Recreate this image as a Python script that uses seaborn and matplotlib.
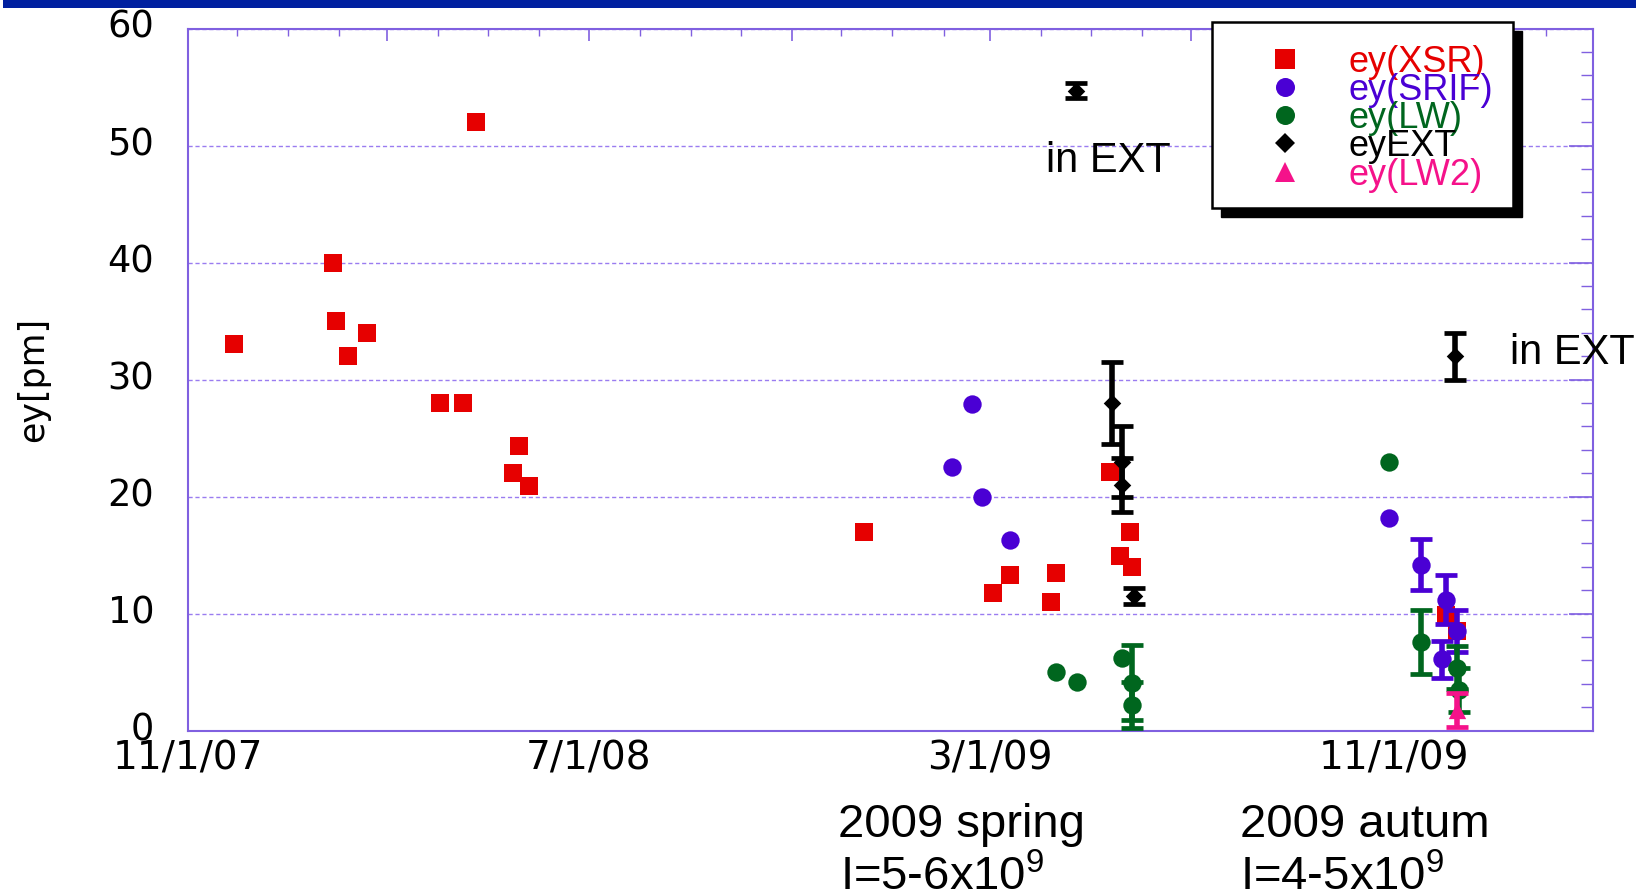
import numpy as np
import pandas as pd
import matplotlib
matplotlib.use("Agg")
import matplotlib.pyplot as plt
import matplotlib.dates as mdates
import matplotlib.transforms as mtransforms
from matplotlib.patches import Rectangle
from matplotlib.lines import Line2D
from matplotlib.ticker import FixedLocator, FixedFormatter, MultipleLocator
import seaborn as sns

nan = np.nan

# ---- measured vertical emittance, by monitor ----
xsr_dates = ["2007-11-29", "2008-01-28", "2008-01-30", "2008-02-06", "2008-02-18",
             "2008-04-02", "2008-04-16", "2008-04-24", "2008-05-16", "2008-05-20",
             "2008-05-26", "2008-12-15", "2009-03-03", "2009-03-13", "2009-04-07",
             "2009-04-10", "2009-05-13", "2009-05-19", "2009-05-25", "2009-05-26",
             "2009-12-02", "2009-12-09"]
xsr_ey = [33.0, 40.0, 35.0, 32.0, 34.0, 28.0, 28.0, 52.0, 22.0, 24.3, 20.9,
          17.0, 11.8, 13.3, 11.0, 13.5, 22.1, 14.9, 17.0, 14.0, 9.9, 8.5]

srif_dates = ["2009-02-06", "2009-02-18", "2009-02-24", "2009-03-13", "2009-10-29",
              "2009-11-17", "2009-11-30", "2009-12-02", "2009-12-09"]
srif_ey = [22.5, 27.9, 20.0, 16.3, 18.2, 14.2, 6.1, 11.2, 8.5]
srif_err = [nan, nan, nan, nan, nan, 2.2, 1.6, 2.1, 1.8]

lw_dates = ["2009-04-10", "2009-04-23", "2009-05-20", "2009-05-26", "2009-05-26",
            "2009-10-29", "2009-11-17", "2009-12-09", "2009-12-10"]
lw_ey = [5.0, 4.2, 6.2, 4.1, 2.2, 23.0, 7.6, 5.4, 3.5]
lw_err = [nan, nan, nan, 3.2, 2.0, nan, 2.75, 1.8, 1.9]

ext_dates = ["2009-04-22", "2009-05-14", "2009-05-20", "2009-05-20", "2009-05-27",
             "2009-12-08"]
ext_ey = [54.7, 28.0, 23.0, 21.0, 11.5, 32.0]
ext_err = [0.65, 3.5, 3.0, 2.3, 0.7, 2.0]

lw2_dates = ["2009-12-09"]
lw2_ey = [1.8]
lw2_err = [1.45]

series_labels = ["ey(XSR)", "ey(SRIF)", "ey(LW)", "eyEXT", "ey(LW2)"]
series_colors = ["#E60000", "#4A00D4", "#00661E", "#000000", "#F5128A"]
series_markers = ["s", "o", "o", "D", "^"]
series_sizes = [180, 175, 175, 80, 155]

x_tick_dates = ["2007-11-01", "2008-03-01", "2008-07-01", "2008-11-01",
                "2009-03-01", "2009-07-01", "2009-11-01", "2010-03-01"]
x_tick_labels = ["11/1/07", "", "7/1/08", "", "3/1/09", "", "11/1/09", ""]
y_ticks = [0, 10, 20, 30, 40, 50, 60]

PURPLE = "#8060E0"
GRID = "#9A7CF0"
W, H = 1646, 894

sns.set_theme(style="white")
plt.rcParams["font.family"] = ["DejaVu Sans"]
plt.rcParams["text.color"] = "black"
plt.rcParams["axes.labelcolor"] = "black"

fig = plt.figure(figsize=(W / 100, H / 100), dpi=100)
fig.patch.set_facecolor("white")
ax = fig.add_axes([187.5 / W, 1 - 730.7 / H, 1405 / W, 702.2 / H])


def px(x, y):
    return x / W, 1 - y / H


series = [
    (xsr_dates, xsr_ey, None),
    (srif_dates, srif_ey, srif_err),
    (lw_dates, lw_ey, lw_err),
    (ext_dates, ext_ey, ext_err),
    (lw2_dates, lw2_ey, lw2_err),
]

for i, (d, v, e) in enumerate(series):
    dates = pd.to_datetime(d)
    z = 3 + 2 * i
    if e is not None:
        ax.errorbar(dates, v, yerr=e, fmt="none", ecolor=series_colors[i],
                    elinewidth=4.0, capsize=8.0, capthick=3.4, zorder=z)
    sns.scatterplot(x=dates, y=v, marker=series_markers[i], color=series_colors[i],
                    s=series_sizes[i], linewidth=0, ax=ax, zorder=z + 0.5,
                    legend=False)

# axes limits, ticks and grid
ax.set_xlim(pd.Timestamp("2007-11-01"), pd.Timestamp("2010-03-01"))
ax.set_ylim(0, 60)
ax.xaxis.set_major_locator(FixedLocator(mdates.date2num(pd.to_datetime(x_tick_dates))))
ax.xaxis.set_major_formatter(FixedFormatter(x_tick_labels))
ax.xaxis.set_minor_locator(mdates.MonthLocator())
ax.yaxis.set_major_locator(FixedLocator(y_ticks))
ax.yaxis.set_minor_locator(MultipleLocator(2))

ax.tick_params(axis="x", which="major", direction="in", length=8.6, width=1.2,
               color=PURPLE, top=True, labelsize=28, pad=6, labelcolor="black")
ax.tick_params(axis="x", which="minor", direction="in", length=5, width=1.0,
               color=PURPLE, top=True)
ax.tick_params(axis="y", which="major", direction="in", length=17, width=1.2,
               color=PURPLE, right=True, labelsize=26.5, pad=24, labelcolor="black")
ax.tick_params(axis="y", which="minor", direction="in", length=8.6, width=1.0,
               color=PURPLE, right=True)

for sp in ax.spines.values():
    sp.set_visible(True)
    sp.set_color(PURPLE)
    sp.set_linewidth(1.5)

ax.yaxis.grid(True, which="major", linestyle=(0, (3, 2)), color=GRID, linewidth=1.0)
ax.xaxis.grid(False)
ax.set_axisbelow(True)

ax.set_xlabel("")
ax.set_ylabel("ey[pm]", fontsize=25, color="black")
ax.yaxis.set_label_coords(-0.098, 0.5)

# y tick labels sit a little above their ticks
lift = mtransforms.ScaledTranslation(0, 5 / 100, fig.dpi_scale_trans)
for t in ax.yaxis.get_major_ticks():
    t.label1.set_transform(t.label1.get_transform() + lift)

# annotations
ANN = ["Liberation Sans", "DejaVu Sans"]
ax.text(pd.Timestamp("2009-04-04"), 47.7, "in EXT", fontsize=30, family=ANN,
        ha="left", va="baseline", color="black")
ax.text(pd.Timestamp("2010-01-10"), 31.3, "in EXT", fontsize=30, family=ANN,
        ha="left", va="baseline", color="black", clip_on=False)

fig.text(*px(838, 836.7), "2009 spring", fontsize=34, family=ANN, va="baseline",
         color="black")
fig.text(*px(840, 890), r"I=5-6x10$^{\mathregular{9}}$", fontsize=34, family=ANN,
         va="baseline", color="black")
fig.text(*px(1240, 836.7), "2009 autum", fontsize=34, family=ANN, va="baseline",
         color="black")
fig.text(*px(1240, 890), r"I=4-5x10$^{\mathregular{9}}$", fontsize=34, family=ANN,
         va="baseline", color="black")

# header bar
fig.add_artist(Rectangle(px(3, 7.5), 1633 / W, 7.5 / H, transform=fig.transFigure,
                         facecolor="#0020A0", edgecolor="none", zorder=10))

# legend box with drop shadow
bx0, by0, bx1, by1 = 1212, 22, 1513, 208
fig.add_artist(Rectangle(px(bx0 + 9, by1 + 8.7), (bx1 - bx0) / W, (by1 - by0) / H,
                         transform=fig.transFigure, facecolor="black",
                         edgecolor="black", zorder=5))
fig.add_artist(Rectangle(px(bx0, by1), (bx1 - bx0) / W, (by1 - by0) / H,
                         transform=fig.transFigure, facecolor="white",
                         edgecolor="black", linewidth=1.8, zorder=6))
legend_ms = [13.7, 13.7, 13.7, 10.2, 13.7]
row_y = [59.3, 87.3, 115.0, 142.7, 171.7]
for lab, col, mk, ms, ry in zip(series_labels, series_colors, series_markers,
                                legend_ms, row_y):
    fig.add_artist(Line2D([1285 / W], [1 - ry / H], transform=fig.transFigure,
                          marker=mk, markersize=ms, color=col, markeredgewidth=0,
                          linestyle="none", zorder=7))
    fig.text(*px(1348, ry + 13), lab, fontsize=26, family=ANN, color=col,
             va="baseline", ha="left", zorder=8)

fig.savefig("out.png", dpi=100, facecolor="white")
